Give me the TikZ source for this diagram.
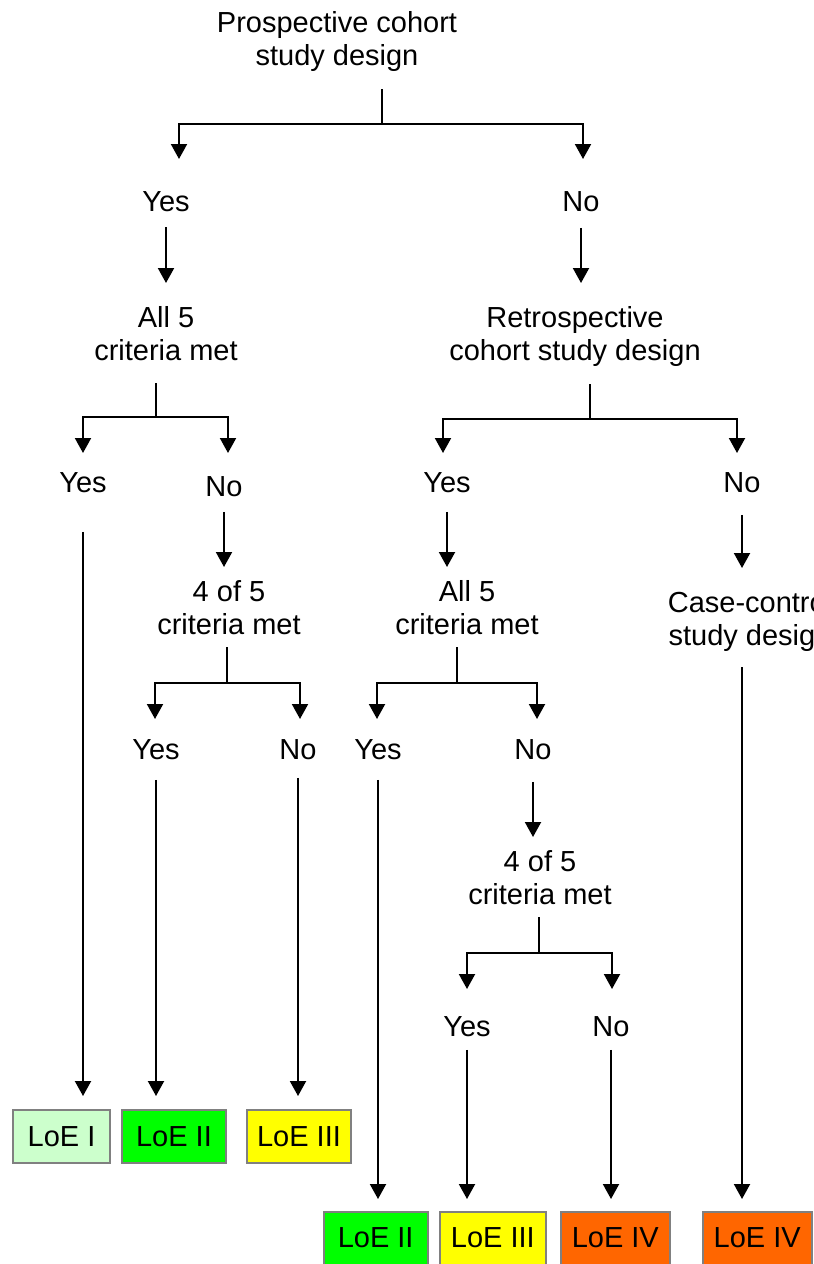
\documentclass[tikz,border=0pt]{standalone}
\usepackage{fontspec}
\setmainfont{Liberation Sans}
\usetikzlibrary{arrows.meta}
\definecolor{loeone}{RGB}{204,255,204}
\definecolor{loetwo}{RGB}{0,255,0}
\definecolor{loethree}{RGB}{255,255,0}
\definecolor{loefour}{RGB}{255,102,0}
\definecolor{loeframe}{RGB}{128,128,128}
\begin{document}
\begin{tikzpicture}[x=0.02cm,y=-0.02cm,
    txt/.style={anchor=north,align=center,inner sep=0pt,font=\fontsize{16.5pt}{19pt}\selectfont},
    line/.style={line width=0.04cm},
    arr/.style={line width=0.04cm,-{Triangle[length=0.3cm,width=0.32cm]}},
    loe/.style={draw=loeframe,line width=0.04cm,minimum height=1.06cm,inner sep=0pt,font=\fontsize{16.5pt}{19pt}\selectfont}]
\useasboundingbox (0,0) rectangle (814,1264);
\clip (0,0) rectangle (814,1264);

% Questions and answers
\node[txt] (pro) at (337,11) {Prospective cohort\\study design};
\node[txt] (yes1) at (166,191) {Yes};
\node[txt] (no1) at (581,191) {No};
\node[txt] (all1) at (166,306) {All 5\\criteria met};
\node[txt] (retro) at (575,306) {Retrospective\\cohort study design};
\node[txt] (yes2) at (83,472) {Yes};
\node[txt] (no2) at (224,476) {No};
\node[txt] (yes3) at (447,472) {Yes};
\node[txt] (no3) at (742,472) {No};
\node[txt] (crit4a) at (229,580) {4 of 5\\criteria met};
\node[txt] (all2) at (467,580) {All 5\\criteria met};
\node[txt] (case) at (750,591) {Case-control\\study design};
\node[txt] (yes4) at (156,739) {Yes};
\node[txt] (no4) at (298,739) {No};
\node[txt] (yes5) at (378,739) {Yes};
\node[txt] (no5) at (533,739) {No};
\node[txt] (crit4b) at (540,850) {4 of 5\\criteria met};
\node[txt] (yes6) at (467,1016) {Yes};
\node[txt] (no6) at (611,1016) {No};

% Levels of evidence
\node[loe,fill=loeone,minimum width=1.94cm] (loe1) at (61.5,1136.5) {LoE I};
\node[loe,fill=loetwo,minimum width=2.08cm] (loe2) at (174,1136.5) {LoE II};
\node[loe,fill=loethree,minimum width=2.09cm] (loe3) at (299,1136.5) {LoE III};
\node[loe,fill=loetwo,minimum width=2.08cm] (loe4) at (375.7,1238) {LoE II};
\node[loe,fill=loethree,minimum width=2.11cm] (loe5) at (492.8,1238) {LoE III};
\node[loe,fill=loefour,minimum width=2.19cm] (loe6) at (615.3,1238) {LoE IV};
\node[loe,fill=loefour,minimum width=2.18cm] (loe7) at (757.2,1238) {LoE IV};

% Drawing fork below pro
\coordinate (j0) at (382,124);
\coordinate (t0a) at (179,159);
\coordinate (t0b) at (583,159);
\draw[line,shorten <=0.34cm] (j0 |- pro.south) -- (j0);
\draw[arr] (j0) -| (t0a);
\draw[arr] (j0) -| (t0b);

% Drawing fork below all1
\coordinate (j1) at (156,417);
\coordinate (t1a) at (83,453);
\coordinate (t1b) at (228,453);
\draw[line,shorten <=0.44cm] (j1 |- all1.south) -- (j1);
\draw[arr] (j1) -| (t1a);
\draw[arr] (j1) -| (t1b);

% Drawing fork below retro
\coordinate (j2) at (590,419);
\coordinate (t2a) at (443,453);
\coordinate (t2b) at (737,453);
\draw[line,shorten <=0.34cm] (j2 |- retro.south) -- (j2);
\draw[arr] (j2) -| (t2a);
\draw[arr] (j2) -| (t2b);

% Drawing fork below crit4a
\coordinate (j3) at (227,683);
\coordinate (t3a) at (155,719);
\coordinate (t3b) at (300,719);
\draw[line,shorten <=0.24cm] (j3 |- crit4a.south) -- (j3);
\draw[arr] (j3) -| (t3a);
\draw[arr] (j3) -| (t3b);

% Drawing fork below all2
\coordinate (j4) at (457,683);
\coordinate (t4a) at (377,719);
\coordinate (t4b) at (537,719);
\draw[line,shorten <=0.24cm] (j4 |- all2.south) -- (j4);
\draw[arr] (j4) -| (t4a);
\draw[arr] (j4) -| (t4b);

% Drawing fork below crit4b
\coordinate (j5) at (539,953);
\coordinate (t5a) at (467,989);
\coordinate (t5b) at (612,989);
\draw[line,shorten <=0.24cm] (j5 |- crit4b.south) -- (j5);
\draw[arr] (j5) -| (t5a);
\draw[arr] (j5) -| (t5b);

% Drawing answer to next question
\draw[arr,shorten <=0.31cm,shorten >=0.46cm] (yes1) -- (yes1 |- all1.north);
\draw[arr,shorten <=0.32cm,shorten >=0.46cm] (no1) -- (no1 |- retro.north);
\draw[arr,shorten <=0.3cm,shorten >=0.26cm] (no2) -- (no2 |- crit4a.north);
\draw[arr,shorten <=0.38cm,shorten >=0.26cm] (yes3) -- (yes3 |- all2.north);
\draw[arr,shorten <=0.44cm,shorten >=0.46cm] (no3) -- (no3 |- case.north);
\draw[arr,shorten <=0.44cm,shorten >=0.26cm] (no5) -- (no5 |- crit4b.north);

% Drawing answer to level of evidence
\draw[arr,shorten <=0.78cm,shorten >=0.26cm] (yes2) -- (yes2 |- loe1.north);
\draw[arr,shorten <=0.4cm,shorten >=0.26cm] (yes4) -- (yes4 |- loe2.north);
\draw[arr,shorten <=0.36cm,shorten >=0.26cm] (no4) -- (no4 |- loe3.north);
\draw[arr,shorten <=0.4cm,shorten >=0.23cm] (yes5) -- (yes5 |- loe4.north);
\draw[arr,shorten <=0.26cm,shorten >=0.23cm] (yes6) -- (yes6 |- loe5.north);
\draw[arr,shorten <=0.26cm,shorten >=0.23cm] (no6) -- (no6 |- loe6.north);
\draw[arr,shorten <=0.3cm,shorten >=0.23cm] (case.south -| no3) -- (no3 |- loe7.north);
\end{tikzpicture}
\end{document}
